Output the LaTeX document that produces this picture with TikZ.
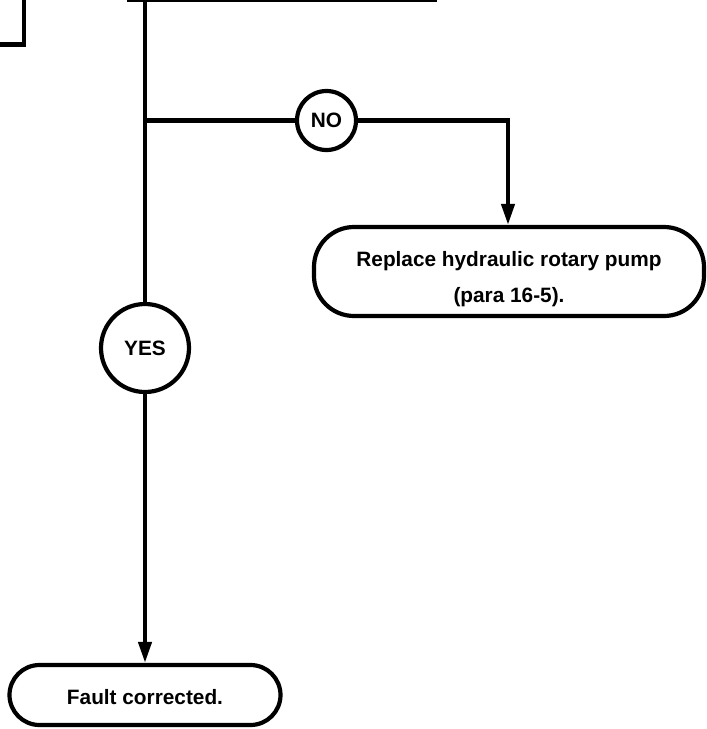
\documentclass[tikz,border=0pt]{standalone}
\usepackage{fontspec}
\setmainfont{Liberation Sans}
\usetikzlibrary{arrows.meta,positioning}

\tikzset{
  flow/.style={line width=4.2pt},
  ans/.style={circle,draw,line width=4.2pt,inner sep=0pt},
  stadium/.style={draw,line width=4.2pt,align=center},
  arr/.style={-{Triangle[length=21pt,width=13pt]}},
}

\begin{document}
\begin{tikzpicture}[x=1pt,y=-1pt,font=\fontsize{20.8}{36}\selectfont\bfseries]
\useasboundingbox (0,0) rectangle (707,729);
\begin{scope}
\clip (0,0) rectangle (707,729);
% boxes above, cut off by the page edge
\node[draw,flow,minimum width=200,minimum height=120] (prev) at (-76,-15.5) {};
\node[draw,flow,minimum width=306,minimum height=120] (check) at (282,-60) {};
\end{scope}

\coordinate (top) at (145,0);
\coordinate (branch) at (145,120.5);

\node[ans,minimum size=59] (no) at (326.5,120.5) {NO};
\node[ans,minimum size=88] (yes) at (145,348) {YES};

\node[stadium,rounded corners=40,minimum width=390,minimum height=89] (pump) at (509,271.5)
  {\rule{0pt}{31pt}Replace hydraulic rotary pump\\(para 16-5).};
\node[stadium,rounded corners=30,minimum width=271,minimum height=60] (fixed) at (145,695)
  {\rule{0pt}{19pt}Fault corrected.};

\draw[flow] (top) -- (yes);
\draw[flow,arr] (yes) -- (fixed);
\draw[flow] (branch) -- (no);
\draw[flow,arr] (no) -| (pump.north -| 508,0);
\end{tikzpicture}
\end{document}
